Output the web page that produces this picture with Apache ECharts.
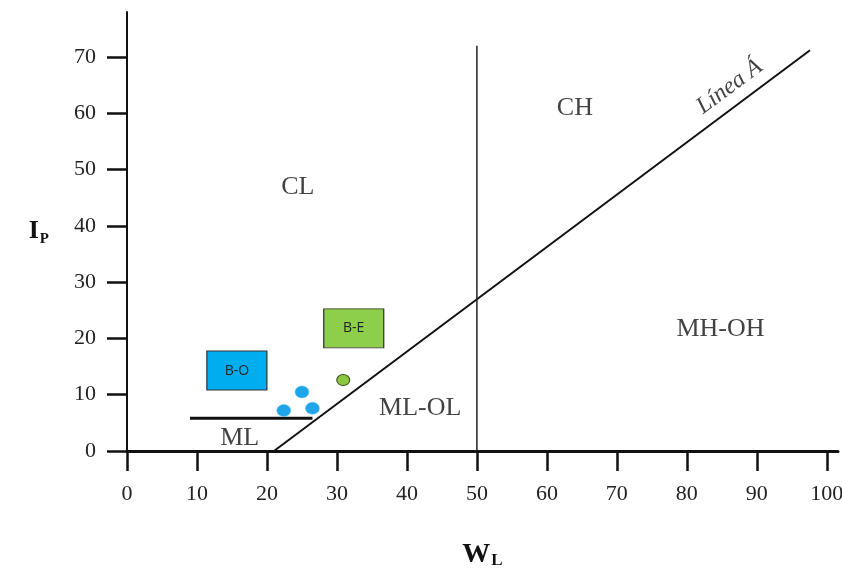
<!DOCTYPE html>
<html>
<head>
<meta charset="utf-8">
<script src="https://cdn.jsdelivr.net/npm/echarts@6/dist/echarts.min.js"></script>
<style>html,body{margin:0;padding:0;background:#fff;}#c{width:842px;height:575px;}</style>
</head>
<body>
<div id="c"></div>
<script>
// Tick labels
const xTicks = [0, 10, 20, 30, 40, 50, 60, 70, 80, 90, 100];
const yTicks = [0, 10, 20, 30, 40, 50, 60, 70];
// Boundary lines (wL, Ip)
const lineA = [[21, 0], [97.6, 71.2]];
const lineB = [[50, 0], [50, 72]];
const lineML = [[9, 5.8], [26.5, 5.8]];
// Samples
const samplesBO = [[22.4, 7.2], [25, 10.5], [26.5, 7.6]];
const samplesBE = [[30.9, 12.6]];
// Legend boxes
const boxNames = ['B-O', 'B-E'];
const boxPos = [[15.7, 14.3], [32.4, 21.8]];
// Zone labels
const zoneNames = ['CL', 'CH', 'MH-OH', 'ML-OL', 'ML'];
const zonePos = [[24.4, 46.9], [64, 61], [84.8, 21.6], [41.9, 7.6], [16.1, 2.3]];
const lineALabel = 'Línea Á';
const lineALabelPos = [86.1, 64.7];

const serif = '"Liberation Serif", "DejaVu Serif", serif';
const chart = echarts.init(document.getElementById('c'), null, {renderer: 'canvas'});

const option = {
  animation: false,
  backgroundColor: '#fff',
  grid: {left: 127, right: 4, top: 12, bottom: 124, containLabel: false, outerBoundsMode: 'none'},
  xAxis: {
    type: 'value', min: 0, max: 101.6,
    axisLine: {show: true, onZero: false, lineStyle: {color: '#111', width: 3}},
    axisTick: {show: true, inside: false, length: 20, lineStyle: {color: '#111', width: 2.5}, customValues: xTicks},
    axisLabel: {show: true, margin: 32, fontFamily: serif, fontSize: 22, color: '#222', customValues: xTicks},
    splitLine: {show: false},
    name: '{w|W}{l|L}', nameLocation: 'middle', nameGap: 87,
    nameTextStyle: {rich: {
      w: {fontFamily: serif, fontWeight: 'bold', fontSize: 28, color: '#111', verticalAlign: 'bottom'},
      l: {fontFamily: serif, fontWeight: 'bold', fontSize: 17, color: '#111', padding: [14, 0, 0, 1]}
    }}
  },
  yAxis: {
    type: 'value', min: 0, max: 78,
    axisLine: {show: true, onZero: false, lineStyle: {color: '#111', width: 2}},
    axisTick: {show: true, inside: false, length: 20, lineStyle: {color: '#111', width: 2.5}, customValues: yTicks},
    axisLabel: {show: true, margin: 31, fontFamily: serif, fontSize: 22, color: '#222', customValues: yTicks},
    splitLine: {show: false},
    name: '{i|I}{p|P}', nameLocation: 'middle', nameGap: 78, nameRotate: 0,
    nameTextStyle: {rich: {
      i: {fontFamily: serif, fontWeight: 'bold', fontSize: 26, color: '#111'},
      p: {fontFamily: serif, fontWeight: 'bold', fontSize: 15, color: '#111', padding: [16, 0, 0, 1]}
    }}
  },
  series: [
    {type: 'line', data: lineA, symbol: 'none', lineStyle: {color: '#111', width: 2}, z: 3},
    {type: 'line', data: lineB, symbol: 'none', lineStyle: {color: '#222', width: 1.5}, z: 3},
    {type: 'line', data: lineML, symbol: 'none', lineStyle: {color: '#111', width: 3}, z: 3},
    {type: 'scatter', data: samplesBO, symbol: 'circle', symbolSize: [14, 12],
      itemStyle: {color: '#1ea5ea', borderColor: '#5cc0f0', borderWidth: 0.5, opacity: 1}, z: 5},
    {type: 'scatter', data: samplesBE, symbol: 'circle', symbolSize: [13, 11],
      itemStyle: {color: '#8cc63f', borderColor: '#3a4a20', borderWidth: 1, opacity: 1}, z: 5},
    {type: 'scatter', symbol: 'rect', symbolSize: [60, 39],
      data: boxNames.map((n, i) => ({name: n, value: boxPos[i],
        itemStyle: {color: i === 0 ? '#00aeef' : '#8dcf4a', borderColor: '#333', borderWidth: 1}})),
      label: {show: true, position: 'inside', formatter: p => p.name,
        fontFamily: '"Open Sans", "Liberation Sans", sans-serif', fontSize: 14, color: '#222'},
      itemStyle: {opacity: 1}, z: 4},
    {type: 'scatter', symbolSize: 0,
      data: zoneNames.map((n, i) => ({name: n, value: zonePos[i]})),
      label: {show: true, position: 'inside', formatter: p => p.name,
        fontFamily: serif, fontSize: 26, color: '#111'}, z: 6},
    {type: 'scatter', symbolSize: 0,
      data: [{name: lineALabel, value: lineALabelPos}],
      label: {show: true, position: 'inside', formatter: p => p.name, rotate: 36.5,
        fontFamily: serif, fontStyle: 'italic', fontSize: 24, color: '#111'}, z: 6}
  ]
};
chart.setOption(option);
</script>
</body>
</html>
